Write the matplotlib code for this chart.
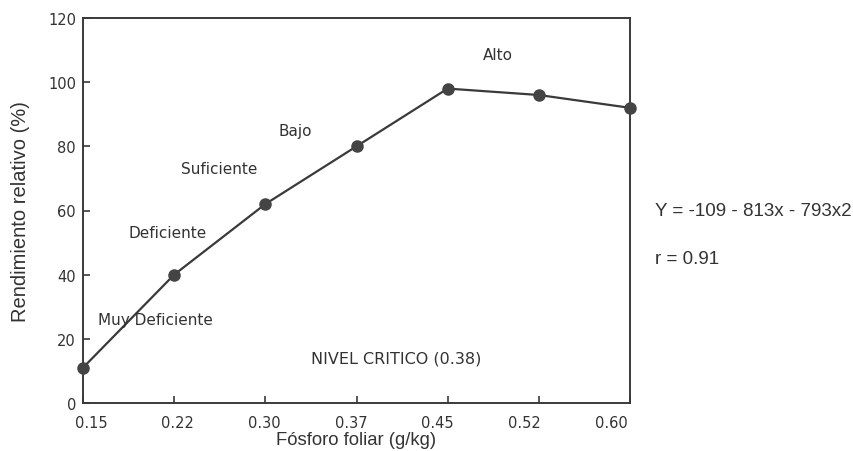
import numpy as np
import matplotlib.pyplot as plt
import matplotlib.transforms as mtransforms

# datos
fosforo = ['0.15', '0.22', '0.30', '0.37', '0.45', '0.52', '0.60']
rendimiento = [11, 40, 62, 80, 98, 96, 92]

zonas = ['Muy Deficiente', 'Deficiente', 'Suficiente', 'Bajo', 'Alto']
zona_x = [0.79, 0.93, 1.49, 2.33, 4.55]
zona_y = [26, 53, 73, 85, 108.5]

ecuacion = 'Y = -109 - 813x - 793x2'
correlacion = 'r = 0.91'
nivel_critico = 'NIVEL CRITICO (0.38)'

gris = '#3a3a3a'

fig = plt.figure(figsize=(8.54, 4.52), dpi=100)
ax = fig.add_axes([83/854, 1 - 404/452, (630-83)/854, (404-19)/452])

x = np.arange(len(fosforo))
ax.plot(x, rendimiento, color=gris, lw=1.6, marker='o', markersize=8,
        markerfacecolor='#444444', markeredgecolor='#444444', clip_on=False, zorder=3)

ax.set_xlim(0, len(fosforo) - 1)
ax.set_ylim(0, 120)
ax.set_xticks(x)
ax.set_xticklabels(fosforo, fontsize=10.5, color='#333333')
ax.set_yticks(np.arange(0, 121, 20))
ax.set_yticklabels([str(v) for v in range(0, 121, 20)], fontsize=10.5, color='#333333')
ax.tick_params(direction='in', length=5, width=1.2, color=gris)
ax.tick_params(axis='x', pad=8.5)
ax.tick_params(axis='y', pad=5)
for s in ax.spines.values():
    s.set_color(gris)
    s.set_linewidth(1.4)

# las etiquetas del eje x en el original no caen justo bajo cada marca
for i, lab in enumerate(ax.get_xticklabels()):
    dx = (8 - 4.5 * i) / 100
    lab.set_transform(lab.get_transform() + mtransforms.ScaledTranslation(dx, 0, fig.dpi_scale_trans))

for txt, zx, zy in zip(zonas, zona_x, zona_y):
    ax.text(zx, zy, txt, ha='center', va='center', fontsize=11, color='#333333')
ax.text(3.43, 14, nivel_critico, ha='center', va='center', fontsize=11.5, color='#333333')

ax.set_xlabel('Fósforo foliar (g/kg)', family='Liberation Sans', fontsize=13.3,
              color='#333333', labelpad=1)
ax.set_ylabel('Rendimiento relativo (%)', family='Liberation Sans', fontsize=14.5,
              color='#333333', labelpad=13)

fig.text(655/854, 1 - 212/452, ecuacion, family='Liberation Sans', fontsize=13.5,
         color='#333333', va='center', ha='left')
fig.text(655/854, 1 - 260/452, correlacion, family='Liberation Sans', fontsize=13.5,
         color='#333333', va='center', ha='left')

fig.savefig('out.png', dpi=100)
